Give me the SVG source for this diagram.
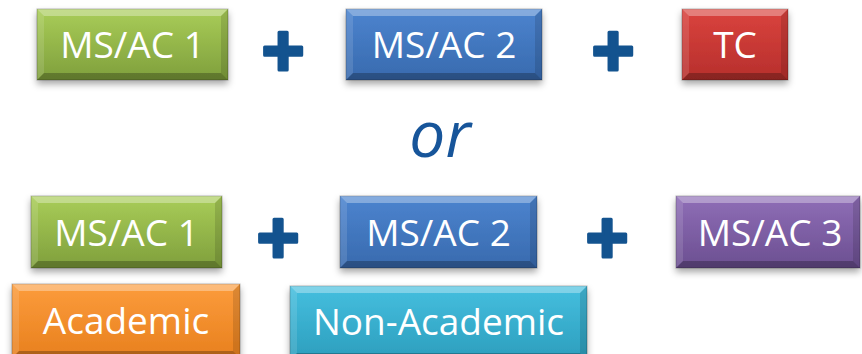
<svg xmlns="http://www.w3.org/2000/svg" width="862" height="354" viewBox="0 0 862 354">
<defs>
<linearGradient id="gGreen" x1="0" y1="0" x2="0" y2="1"><stop offset="0" stop-color="#A9CD58"/><stop offset="1" stop-color="#7F9F3C"/></linearGradient>
<linearGradient id="gBlue" x1="0" y1="0" x2="0" y2="1"><stop offset="0" stop-color="#4C84CF"/><stop offset="1" stop-color="#386AAE"/></linearGradient>
<linearGradient id="gRed" x1="0" y1="0" x2="0" y2="1"><stop offset="0" stop-color="#DA433E"/><stop offset="1" stop-color="#B72F2C"/></linearGradient>
<linearGradient id="gPurple" x1="0" y1="0" x2="0" y2="1"><stop offset="0" stop-color="#8F6EB7"/><stop offset="1" stop-color="#6B4F91"/></linearGradient>
<linearGradient id="gOrange" x1="0" y1="0" x2="0" y2="1"><stop offset="0" stop-color="#FC9C3C"/><stop offset="1" stop-color="#E8801E"/></linearGradient>
<linearGradient id="gCyan" x1="0" y1="0" x2="0" y2="1"><stop offset="0" stop-color="#46BFDF"/><stop offset="1" stop-color="#2C9EBD"/></linearGradient>
<filter id="sh" x="-10%" y="-20%" width="120%" height="150%"><feDropShadow dx="0" dy="4" stdDeviation="3.5" flood-color="#000" flood-opacity="0.35"/></filter>
</defs>
<style>
.box{filter:url(#sh);stroke:rgba(0,0,0,0.25);stroke-width:1}
.bt{fill:#fff;opacity:0.32}
.bl{fill:#fff;opacity:0.12}
.br{fill:#000;opacity:0.12}
.bb{fill:#000;opacity:0.25}
.lbl{font-family:"Open Sans","Noto Sans","Liberation Sans",sans-serif;font-size:37px;fill:#fff;text-anchor:middle}
.plus{font-family:"Liberation Sans",Arial,sans-serif;font-weight:bold;font-size:74px;fill:#13538F;stroke:#13538F;stroke-width:3;stroke-linejoin:round;text-anchor:middle}
.or{font-family:"Open Sans","Noto Sans","Liberation Sans",sans-serif;font-style:italic;font-size:64px;fill:#17559A;text-anchor:middle}
</style>

<g id="top-msac1" transform="translate(37,9)">
<rect class="box" width="191" height="71" fill="url(#gGreen)"/>
<polygon class="bt" points="0,0 191,0 184,7 7,7"/><polygon class="bl" points="0,0 7,7 7,64 0,71"/><polygon class="br" points="191,0 191,71 184,64 184,7"/><polygon class="bb" points="0,71 7,64 184,64 191,71"/>
<text class="lbl" x="95.5" y="48.5">MS/AC 1</text>
</g>
<g id="top-msac2" transform="translate(346,9)">
<rect class="box" width="196" height="71" fill="url(#gBlue)"/>
<polygon class="bt" points="0,0 196,0 189,7 7,7"/><polygon class="bl" points="0,0 7,7 7,64 0,71"/><polygon class="br" points="196,0 196,71 189,64 189,7"/><polygon class="bb" points="0,71 7,64 189,64 196,71"/>
<text class="lbl" x="98" y="48.5">MS/AC 2</text>
</g>
<g id="top-tc" transform="translate(682,9)">
<rect class="box" width="106" height="71" fill="url(#gRed)"/>
<polygon class="bt" points="0,0 106,0 99,7 7,7"/><polygon class="bl" points="0,0 7,7 7,64 0,71"/><polygon class="br" points="106,0 106,71 99,64 99,7"/><polygon class="bb" points="0,71 7,64 99,64 106,71"/>
<text class="lbl" x="53" y="48.5">TC</text>
</g>
<g id="plus-top-1"><text class="plus" x="283" y="76">+</text></g>
<g id="plus-top-2"><text class="plus" x="613" y="76">+</text></g>

<g id="or"><text class="or" x="440" y="157">or</text></g>

<g id="bot-msac1" transform="translate(31,196)">
<rect class="box" width="191" height="72" fill="url(#gGreen)"/>
<polygon class="bt" points="0,0 191,0 184,7 7,7"/><polygon class="bl" points="0,0 7,7 7,65 0,72"/><polygon class="br" points="191,0 191,72 184,65 184,7"/><polygon class="bb" points="0,72 7,65 184,65 191,72"/>
<text class="lbl" x="95.5" y="49.5">MS/AC 1</text>
</g>
<g id="bot-msac2" transform="translate(340,196)">
<rect class="box" width="197" height="72" fill="url(#gBlue)"/>
<polygon class="bt" points="0,0 197,0 190,7 7,7"/><polygon class="bl" points="0,0 7,7 7,65 0,72"/><polygon class="br" points="197,0 197,72 190,65 190,7"/><polygon class="bb" points="0,72 7,65 190,65 197,72"/>
<text class="lbl" x="98.5" y="49.5">MS/AC 2</text>
</g>
<g id="bot-msac3" transform="translate(676,196)">
<rect class="box" width="184" height="72" fill="url(#gPurple)"/>
<polygon class="bt" points="0,0 184,0 177,7 7,7"/><polygon class="bl" points="0,0 7,7 7,65 0,72"/><polygon class="br" points="184,0 184,72 177,65 177,7"/><polygon class="bb" points="0,72 7,65 177,65 184,72"/>
<text class="lbl" x="94" y="49.5">MS/AC 3</text>
</g>
<g id="plus-bot-1"><text class="plus" x="278" y="263">+</text></g>
<g id="plus-bot-2"><text class="plus" x="607" y="263">+</text></g>

<g id="academic" transform="translate(12,284)">
<rect class="box" width="228" height="74" fill="url(#gOrange)"/>
<polygon class="bt" points="0,0 228,0 221,7 7,7"/><polygon class="bl" points="0,0 7,7 7,67 0,74"/><polygon class="br" points="228,0 228,74 221,67 221,7"/><polygon class="bb" points="0,74 7,67 221,67 228,74"/>
<text class="lbl" x="114" y="49.5">Academic</text>
</g>
<g id="non-academic" transform="translate(290,286)">
<rect class="box" width="297" height="74" fill="url(#gCyan)"/>
<polygon class="bt" points="0,0 297,0 290,7 7,7"/><polygon class="bl" points="0,0 7,7 7,67 0,74"/><polygon class="br" points="297,0 297,74 290,67 290,7"/><polygon class="bb" points="0,74 7,67 290,67 297,74"/>
<text class="lbl" x="148.5" y="48.5">Non-Academic</text>
</g>
<g id="connectors"/>
</svg>
